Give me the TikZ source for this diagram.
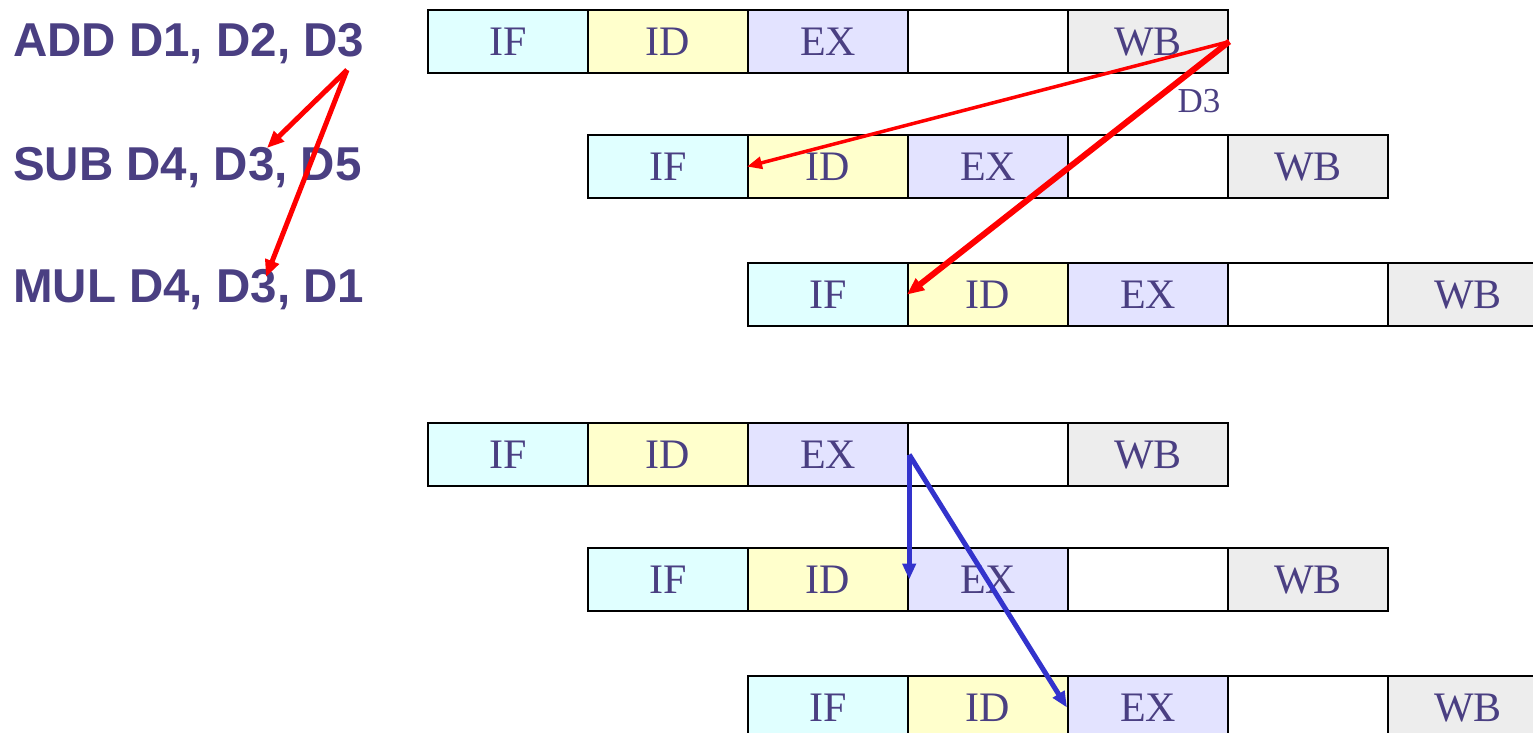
\documentclass[tikz,border=0pt]{standalone}
\usepackage{fontspec}
\setmainfont{Liberation Serif}
\newfontfamily\arialfont{Liberation Sans}
\usetikzlibrary{arrows.meta}
\definecolor{txt}{HTML}{4A3F82}
\definecolor{cif}{HTML}{E0FFFF}
\definecolor{cid}{HTML}{FFFFCC}
\definecolor{cex}{HTML}{E3E3FF}
\definecolor{cwb}{HTML}{EDEDED}
\definecolor{redline}{HTML}{FF0000}
\definecolor{blueline}{HTML}{3333CC}
\begin{document}
\begin{tikzpicture}[x=1pt,y=-1pt,
  stagebox/.style={draw=black, line width=2.2pt, minimum width=160pt, minimum height=63pt,
    anchor=north west, inner sep=0pt, text=txt, font=\fontsize{42}{42}\selectfont},
  instr/.style={anchor=base west, inner sep=0pt, text=txt, font=\arialfont\bfseries\fontsize{47.5}{47.5}\selectfont},
  redarrow/.style={draw=redline, -{Triangle[length=17pt,width=14pt]}},
  bluearrow/.style={draw=blueline, line width=5pt, -{Triangle[length=16pt,width=13pt]}}
]
\clip (0,0) rectangle (1533,733);
\useasboundingbox (0,0) rectangle (1533,733);

\foreach \r/\x/\y in {1/427/9,2/587/134,3/747/262,4/427/422,5/587/547,6/747/675}{
  \node[stagebox, fill=cif] (r\r-if) at (\x,\y) {IF};
  \node[stagebox, fill=cid] (r\r-id) at (\x+160,\y) {ID};
  \node[stagebox, fill=cex] (r\r-ex) at (\x+320,\y) {EX};
  \node[stagebox, fill=white] (r\r-mem) at (\x+480,\y) {};
  \node[stagebox, fill=cwb] (r\r-wb) at (\x+640,\y) {WB};
}

\node[instr] (add) at (13,57) {ADD D1, D2, D3};
\node[instr] (sub) at (13,180) {SUB D4, D3, D5};
\node[instr] (mul) at (13,302) {MUL D4, D3, D1};

\coordinate (addd3) at (347,70);
\coordinate (subd3) at (267,148);
\coordinate (muld3) at (266,277);

\node[text=txt, font=\fontsize{35}{35}\selectfont, inner sep=0pt] (d3) at (1199,101) {D3};

\draw[redarrow, line width=5pt] (addd3) -- (subd3);
\draw[redarrow, line width=5pt] (addd3) -- (muld3);
\draw[redarrow, line width=3.5pt, -{Triangle[length=15pt,width=12pt]}] (r1-wb.east) -- (r2-id.west);
\draw[redarrow, line width=6pt] (r1-wb.east) -- (r3-id.west);

\draw[bluearrow] (r4-ex.east) -- (r5-id.east);
\draw[bluearrow] (r4-ex.east) -- (r6-ex.west);
\end{tikzpicture}
\end{document}
